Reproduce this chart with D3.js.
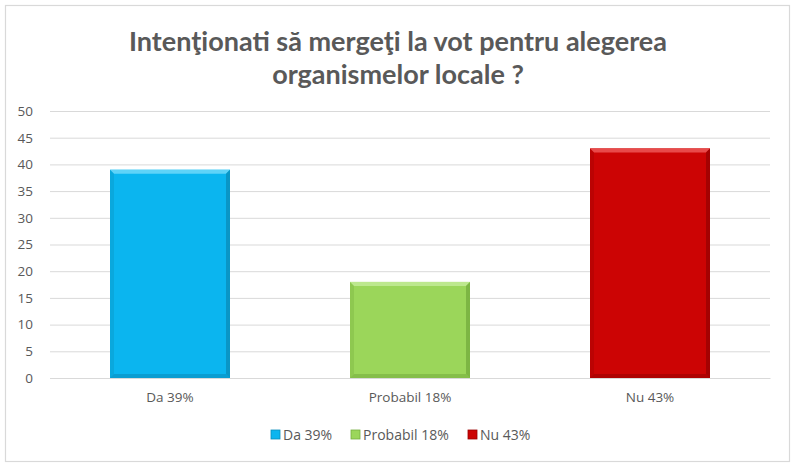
<!DOCTYPE html>
<html><head><meta charset="utf-8">
<script src="https://cdn.jsdelivr.net/npm/d3@7"></script>
<style>body{margin:0;background:#fff;}svg{display:block;font-family:Lato,"Open Sans",sans-serif;}</style>
</head><body>
<svg id="c" width="800" height="474"></svg>
<script>
const categories = ["Da 39%", "Probabil 18%", "Nu 43%"];
const values = [39, 18, 43];
const colors = ["#0BB5EF", "#9BD65A", "#CC0404"];
const darks = ["#0A8EBC", "#76AE3F", "#9A0202"];
const lights = ["#5FD3F8", "#BDE88E", "#E84A4A"];
const yTicks = [0,5,10,15,20,25,30,35,40,45,50];
const titleLines = ["Intenţionati să mergeţi la vot pentru alegerea", "organismelor locale ?"];

const svg = d3.select("#c");
svg.append("rect").attr("x",5.5).attr("y",5.5).attr("width",784).attr("height",456)
  .attr("fill","#fff").attr("stroke","#D9D9D9").attr("stroke-width",1.2);

const x = d3.scaleBand().domain(categories).range([50,770]).paddingInner(0.5).paddingOuter(0.25);
const y = d3.scaleLinear().domain([0,50]).range([378,111]);

// title
svg.append("g").selectAll("text").data(titleLines).join("text")
  .attr("x",398).attr("y",(d,i)=>51+i*33).attr("text-anchor","middle")
  .attr("font-size",27).attr("font-weight","bold").attr("fill","#595959").text(d=>d);

// grid
const yAxis = d3.axisLeft(y).tickValues(yTicks).tickSize(-720).tickPadding(14);
const gy = svg.append("g").attr("transform","translate(50,0)").call(yAxis);
gy.select(".domain").remove();
gy.selectAll(".tick line").attr("stroke","#D9D9D9").attr("stroke-width",1);
gy.selectAll(".tick text").attr("fill","#595959").attr("font-size",13.5).attr("x",-17).attr("text-anchor","end").attr("font-family","'Open Sans',sans-serif");

// bars with bevel
const bars = svg.append("g").selectAll("g").data(categories).join("g");
bars.each(function(c,i){
  const g = d3.select(this);
  const x0 = x(c), w = x.bandwidth(), y0 = y(values[i]), y1 = y(0), b = 4;
  g.append("rect").attr("x",x0).attr("y",y0).attr("width",w).attr("height",y1-y0).attr("fill",colors[i]);
  g.append("polygon").attr("points",[[x0,y0],[x0+w,y0],[x0+w-b,y0+b],[x0+b,y0+b]].join(" ")).attr("fill",lights[i]);
  g.append("polygon").attr("points",[[x0,y0],[x0+b,y0+b],[x0+b,y1-b],[x0,y1]].join(" ")).attr("fill",darks[i]).attr("opacity",0.35);
  g.append("polygon").attr("points",[[x0+w,y0],[x0+w,y1],[x0+w-b,y1-b],[x0+w-b,y0+b]].join(" ")).attr("fill",darks[i]).attr("opacity",0.8);
  g.append("polygon").attr("points",[[x0,y1],[x0+w,y1],[x0+w-b,y1-b],[x0+b,y1-b]].join(" ")).attr("fill",darks[i]).attr("opacity",0.6);
});

// x axis
const xAxis = d3.axisBottom(x).tickSize(0).tickPadding(14);
const gx = svg.append("g").attr("transform","translate(0,378)").call(xAxis);
gx.select(".domain").attr("stroke","#D9D9D9");
gx.selectAll(".tick text").attr("fill","#595959").attr("font-size",13.5).attr("font-family","'Open Sans',sans-serif");

// legend
const legX = [271, 351, 468];
const leg = svg.append("g").selectAll("g").data(categories).join("g")
  .attr("transform",(d,i)=>`translate(${legX[i]},435)`);
leg.append("rect").attr("x",0).attr("y",-5).attr("width",9).attr("height",9)
  .attr("fill",(d,i)=>colors[i]).attr("stroke",(d,i)=>darks[i]).attr("stroke-width",0.8);
leg.append("text").attr("x",12).attr("y",5).attr("font-size",14).attr("fill","#595959")
  .attr("font-family","'Open Sans',sans-serif").text(d=>d);
</script>
</body></html>
